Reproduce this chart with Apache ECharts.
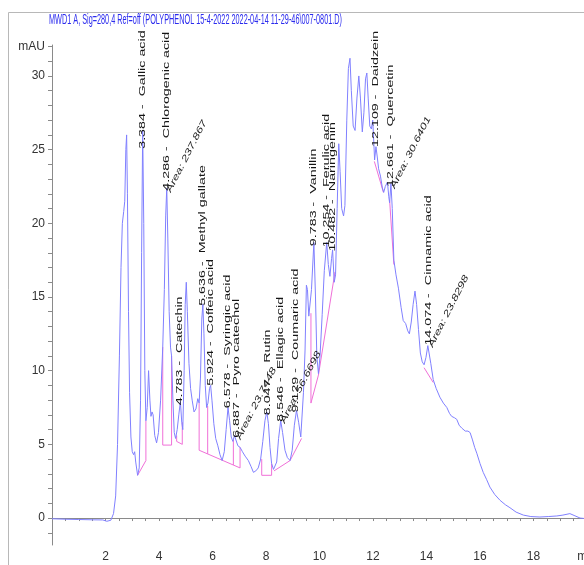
<!DOCTYPE html>
<html>
<head>
<meta charset="utf-8">
<script src="https://cdn.jsdelivr.net/npm/echarts@6/dist/echarts.min.js"></script>
<style>html,body{margin:0;padding:0;background:#fff}#c{width:584px;height:565px}</style>
</head>
<body>
<div id="c"></div>
<script>
// ---- data (time in min, signal in mAU) ----
const titleText = 'MWD1 A, Sig=280,4 Ref=off (POLYPHENOL 15-4-2022 2022-04-14 11-29-46\\007-0801.D)';
const times = [0.00,0.5,1.0,1.5,1.9,2.05,2.12,2.20,2.30,2.38,2.45,2.52,2.58,2.63,2.68,2.72,2.76,2.79,2.82,2.86,2.90,2.95,3.00,3.05,3.09,3.13,3.20,3.26,3.31,3.35,3.39,3.43,3.47,3.51,3.56,3.61,3.66,3.70,3.74,3.78,3.84,3.91,3.98,4.06,4.14,4.20,4.25,4.29,4.33,4.38,4.43,4.47,4.52,4.57,4.62,4.68,4.74,4.80,4.85,4.89,4.94,4.98,5.02,5.06,5.12,5.18,5.24,5.31,5.38,5.45,5.50,5.55,5.60,5.64,5.68,5.73,5.78,5.83,5.89,5.93,5.98,6.05,6.12,6.20,6.28,6.36,6.44,6.51,6.58,6.64,6.70,6.76,6.82,6.88,6.95,7.03,7.12,7.22,7.34,7.44,7.53,7.62,7.71,7.80,7.88,7.96,8.03,8.09,8.15,8.21,8.28,8.34,8.40,8.47,8.55,8.62,8.71,8.80,8.90,8.98,9.06,9.14,9.22,9.30,9.35,9.40,9.46,9.51,9.55,9.60,9.64,9.70,9.79,9.85,9.90,9.96,10.02,10.10,10.18,10.27,10.33,10.39,10.45,10.49,10.55,10.60,10.66,10.72,10.77,10.83,10.90,10.95,11.02,11.08,11.14,11.19,11.26,11.33,11.40,11.47,11.53,11.60,11.66,11.72,11.77,11.82,11.88,11.94,11.99,12.03,12.06,12.11,12.16,12.21,12.28,12.35,12.40,12.46,12.54,12.59,12.62,12.67,12.72,12.78,12.86,12.95,13.05,13.13,13.22,13.30,13.36,13.43,13.50,13.57,13.63,13.70,13.77,13.84,13.91,13.98,14.05,14.10,14.16,14.25,14.36,14.50,14.63,14.76,14.86,14.94,15.05,15.13,15.22,15.32,15.45,15.55,15.63,15.72,15.80,15.88,16.00,16.12,16.25,16.37,16.55,16.75,16.95,17.12,17.35,17.62,17.90,18.24,18.55,18.87,19.10,19.36,19.55,19.74,20.0];
const signal = [-0.05,-0.08,-0.10,-0.12,-0.13,-0.22,-0.25,-0.15,0.3,1.5,5.0,11.0,17.0,20.0,20.8,21.5,25.0,26.0,22.0,14.0,8.5,5.5,4.5,4.3,4.5,3.8,2.9,3.4,8.0,18.0,26.3,20.0,10.0,6.6,7.5,10.0,8.0,6.9,7.2,7.0,5.6,5.1,5.8,8.0,11.6,15.5,20.5,22.4,19.0,14.0,11.6,11.0,8.0,5.8,5.4,6.0,7.0,7.9,6.5,6.0,10.0,14.5,16.0,14.0,10.5,8.8,8.0,7.2,7.4,8.1,7.8,9.5,13.5,14.5,12.5,9.0,7.5,7.8,8.8,9.0,8.0,6.4,5.4,4.9,4.3,3.9,4.5,6.0,7.5,6.6,5.5,5.2,5.6,5.5,4.9,4.8,4.5,4.2,3.9,3.5,3.1,3.2,3.4,4.0,5.2,6.6,7.2,6.4,4.8,3.7,3.3,3.2,3.8,5.4,6.6,5.8,4.6,4.1,3.9,4.6,6.3,7.3,6.5,5.5,5.6,8.5,11.4,15.8,15.5,13.7,13.7,15.5,18.7,15.0,11.0,9.8,11.0,13.8,16.8,18.7,17.2,16.4,17.6,18.2,16.0,16.5,21.0,25.4,23.5,21.0,20.5,21.2,27.0,30.5,31.2,29.0,26.6,26.3,28.5,30.0,28.5,26.2,27.5,29.8,30.2,28.5,26.6,26.4,27.0,25.5,24.3,25.2,24.5,23.7,23.2,22.4,22.1,22.5,22.8,21.8,21.4,22.7,21.0,17.5,16.5,15.6,14.3,13.4,13.2,12.7,12.5,13.3,14.5,15.4,14.5,12.8,11.2,10.6,10.4,10.9,11.7,11.7,10.5,9.4,8.8,8.2,7.8,7.5,7.1,6.9,6.8,6.7,6.3,6.1,5.9,5.9,5.8,5.3,4.8,4.4,3.7,3.1,2.6,2.1,1.6,1.2,0.9,0.7,0.4,0.2,0.1,0.07,0.1,0.14,0.2,0.3,0.15,0.0,-0.05];
// integration baselines (null separates segments)
const baseT = [3.20,3.51,3.51,null, 4.14,4.14,4.47,4.47,null, 4.66,4.66,4.87,4.87,null, 5.50,5.50,7.03,7.03,null, 5.82,5.82,null, 6.78,6.78,null, 7.84,7.84,8.21,8.21,null, 8.30,8.90,9.33,null, 9.68,9.68,9.96,10.58,null, 12.05,12.39,null, 12.62,12.78,null, 13.91,14.25];
const baseV = [2.9,3.9,6.6,null, 11.6,4.95,4.95,11.0,null, 5.6,5.2,5.0,6.5,null, 7.8,4.6,3.4,4.8,null, 4.35,7.6,null, 3.6,5.3,null, 4.0,2.9,2.9,3.7,null, 3.2,3.9,5.4,null, 13.9,7.8,9.7,16.7,null, 24.2,22.1,null, 21.6,17.2,null, 10.2,9.2];
const rtTimes = [3.384,4.286,4.783,5.636,5.924,6.578,6.887,8.047,8.546,9.129,9.783,10.254,10.482,12.109,12.661,14.074];
const rtNames = ['Gallic acid','Chlorogenic acid','Catechin','Methyl gallate','Coffeic acid','Syringic acid','Pyro catechol','Rutin','Ellagic acid','Coumaric acid','Vanillin','Ferulic acid','Naringenin','Daidzein','Quercetin','Cinnamic acid'];
const areaTimes = [4.286,6.887,8.546,12.661,14.074];
const areaValues = ['237.867','23.7448','56.6698','30.6401','23.8298'];
const xLabelValues = [2,4,6,8,10,12,14,16,18,20];
const yLabelValues = [0,5,10,15,20,25,30,32];

// ---- build ----
const traceData = times.map((t,i)=>[t, signal[i]]);
const baseData = baseT.map((t,i)=> t===null ? [baseT[i-1], '-'] : [t, baseV[i]]);
function sigAt(t){
  for(let i=1;i<times.length;i++){
    if(times[i]>=t){const f=(t-times[i-1])/(times[i]-times[i-1]);return signal[i-1]+f*(signal[i]-signal[i-1]);}
  }
  return signal[signal.length-1];
}
const xTicks=[];for(let v=0;v<=20.001;v+=0.5)xTicks.push(+v.toFixed(1));
const yTicks=[];for(let v=-1;v<=32;v++)yTicks.push(v);

const chart = echarts.init(document.getElementById('c'), null, {renderer:'canvas'});
const axisCol = '#8a8a8a';
const lblFont = '"Liberation Sans Narrow", "Liberation Sans", Arial, sans-serif';
const option = {
  animation:false,
  backgroundColor:'#ffffff',
  grid:{left:52, top:45, right:-3, bottom:20, containLabel:false, outerBoundsMode:'none'},
  xAxis:{type:'value', min:0, max:20,
    axisLine:{lineStyle:{color:axisCol}},
    axisTick:{customValues:xTicks, length:3, lineStyle:{color:axisCol}},
    axisLabel:{customValues:xLabelValues, margin:6, color:'#333', fontSize:12, fontFamily:lblFont,
      formatter:v=> v===20 ? 'min' : String(v)},
    splitLine:{show:false}},
  yAxis:{type:'value', min:-1.83, max:32.1,
    axisLine:{show:true, lineStyle:{color:axisCol}},
    axisTick:{show:true, customValues:yTicks, length:4, lineStyle:{color:axisCol}},
    axisLabel:{customValues:yLabelValues, margin:7, color:'#333', fontSize:12, fontFamily:lblFont,
      formatter:v=> v===32 ? 'mAU' : String(v),
      rich:{}},
    splitLine:{show:false}},
  series:[
    {type:'line', data:traceData, showSymbol:false, symbol:'none', lineStyle:{color:'#8080ff', width:1}, z:3},
    {type:'line', data:baseData, showSymbol:false, symbol:'none', connectNulls:false, lineStyle:{color:'#f070d8', width:1}, z:2}
  ]
};
chart.setOption(option);

const g = [];
g.push({type:'rect', shape:{x:8.5, y:12.5, width:640, height:640}, style:{fill:'none', stroke:'#b8b8b8', lineWidth:1}, silent:true, z:0});
g.push({type:'text', x:49, y:20, scaleX:0.54, scaleY:1.05,
  style:{text:titleText, font:'13.5px "Liberation Sans", Arial, sans-serif', fill:'#2b2bee', align:'left', verticalAlign:'middle', textAlign:'left', textVerticalAlign:'middle'}, z:10});
rtTimes.forEach((t,i)=>{
  const p = chart.convertToPixel({gridIndex:0},[t, sigAt(t)]);
  g.push({type:'text', x:p[0], y:p[1], rotation:Math.PI/2, scaleX:1.3, scaleY:0.75,
    style:{text:t.toFixed(3)+' -  '+rtNames[i], font:'11px "Liberation Sans", Arial, sans-serif', fill:'#151515', align:'left', verticalAlign:'middle', textAlign:'left', textVerticalAlign:'middle'}, z:10});
});
areaTimes.forEach((t,i)=>{
  const p = chart.convertToPixel({gridIndex:0},[t, sigAt(t)]);
  g.push({type:'text', x:p[0]+2, y:p[1]+1, rotation:63*Math.PI/180, scaleX:1.15, scaleY:0.8,
    style:{text:'Area: '+areaValues[i], font:'italic 11px "Liberation Sans", Arial, sans-serif', fill:'#222', align:'left', verticalAlign:'middle', textAlign:'left', textVerticalAlign:'middle'}, z:10});
});
chart.setOption({graphic:{elements:g}});
</script>
</body>
</html>
